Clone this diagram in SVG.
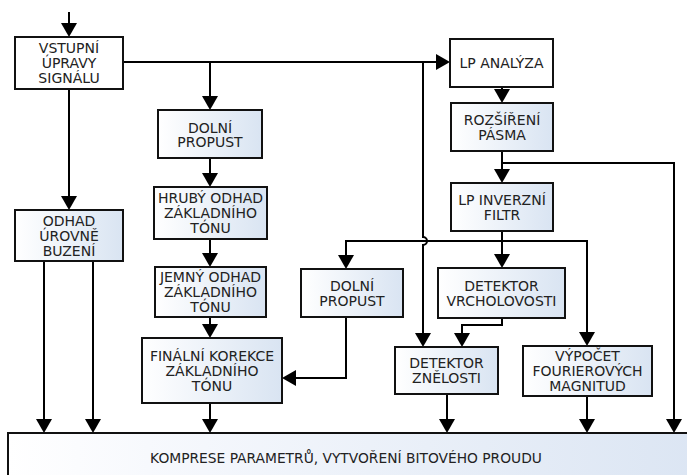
<svg xmlns="http://www.w3.org/2000/svg" width="687" height="475" viewBox="0 0 687 475">
<defs>
<linearGradient id="g" x1="0" y1="0" x2="1" y2="0">
<stop offset="0" stop-color="#ffffff"/>
<stop offset="1" stop-color="#d9e4f2"/>
</linearGradient>
<linearGradient id="gb" x1="0" y1="0" x2="1" y2="0">
<stop offset="0" stop-color="#ffffff"/>
<stop offset="0.2" stop-color="#f7f9fd"/>
<stop offset="1" stop-color="#dbe5f3"/>
</linearGradient>
<marker id="a" viewBox="0 0 14 16" refX="11" refY="8" markerWidth="14" markerHeight="16" markerUnits="userSpaceOnUse" orient="auto">
<path d="M0,0 L14,8 L0,16 Z" fill="#000"/>
</marker>
</defs>
<style>
.b{fill:url(#g);stroke:#111;stroke-width:2}
.w{fill:#fff;stroke:#111;stroke-width:2}
.c{fill:none;stroke:#000;stroke-width:2;marker-end:url(#a)}
.n{fill:none;stroke:#000;stroke-width:2}
text{font-family:"DejaVu Sans",Verdana,sans-serif;font-size:14px;fill:#222;text-anchor:middle}
</style>
<rect width="687" height="475" fill="#fff"/>
<g id="connectors">
<path class="c" d="M69,12 V34"/>
<path class="c" d="M123,62 H447"/>
<path class="c" d="M210,62 V107"/>
<path class="c" d="M423,62 V237 a4,4 0 0 1 0,8 V344"/>
<path class="c" d="M69,89 V207"/>
<path class="c" d="M44,261 V430"/>
<path class="c" d="M93,261 V430"/>
<path class="c" d="M210,158 V184"/>
<path class="c" d="M210,239 V264"/>
<path class="c" d="M210,317 V335"/>
<path class="c" d="M210,403 V430"/>
<path class="c" d="M502,87 V100"/>
<path class="c" d="M502,151 V180"/>
<path class="c" d="M502,163 H674 V430"/>
<path class="c" d="M502,231 V265"/>
<path class="c" d="M502,241 H346 V266"/>
<path class="c" d="M502,241 H587 V343"/>
<path class="c" d="M346,317 V378 H285"/>
<path class="c" d="M502,318 V325 H462 V344"/>
<path class="c" d="M447,394 V430"/>
<path class="c" d="M587,396 V430"/>
</g>
<g id="vstupni"><rect class="w" x="15" y="37" width="108" height="52"/><text x="69" y="53">VSTUPNÍ</text><text x="69" y="68">ÚPRAVY</text><text x="69" y="83">SIGNÁLU</text></g>
<g id="odhad"><rect class="b" x="15" y="210" width="108" height="51"/><text x="69" y="225.5">ODHAD</text><text x="69" y="240.5">ÚROVNĚ</text><text x="69" y="255.5">BUZENÍ</text></g>
<g id="dolni1"><rect class="b" x="158" y="110" width="104" height="48"/><text x="210" y="132.5">DOLNÍ</text><text x="210" y="147">PROPUST</text></g>
<g id="hruby"><rect class="b" x="154" y="187" width="113" height="52"/><text x="210.5" y="203">HRUBÝ ODHAD</text><text x="210.5" y="218">ZÁKLADNÍHO</text><text x="210.5" y="233">TÓNU</text></g>
<g id="jemny"><rect class="b" x="155" y="267" width="111" height="50"/><text x="210.5" y="282">JEMNÝ ODHAD</text><text x="210.5" y="297">ZÁKLADNÍHO</text><text x="210.5" y="312">TÓNU</text></g>
<g id="finalni"><rect class="b" x="142" y="338" width="140" height="65"/><text x="212" y="360.5">FINÁLNÍ KOREKCE</text><text x="212" y="375.5">ZÁKLADNÍHO</text><text x="212" y="390.5">TÓNU</text></g>
<g id="lpanalyza"><rect class="w" x="450" y="39" width="103" height="48"/><text x="501.5" y="68">LP ANALÝZA</text></g>
<g id="rozsireni"><rect class="b" x="451" y="103" width="102" height="48"/><text x="502" y="124.5">ROZŠÍŘENÍ</text><text x="502" y="139.5">PÁSMA</text></g>
<g id="lpinverzni"><rect class="b" x="451" y="183" width="102" height="48"/><text x="502" y="204.5">LP INVERZNÍ</text><text x="502" y="219.5">FILTR</text></g>
<g id="dolni2"><rect class="b" x="301" y="269" width="102" height="48"/><text x="352" y="290.5">DOLNÍ</text><text x="352" y="305.5">PROPUST</text></g>
<g id="vrchol"><rect class="b" x="438" y="268" width="127" height="50"/><text x="501.5" y="290.5">DETEKTOR</text><text x="501.5" y="305.5">VRCHOLOVOSTI</text></g>
<g id="znelost"><rect class="b" x="395" y="347" width="103" height="47"/><text x="446.5" y="368">DETEKTOR</text><text x="446.5" y="383">ZNĚLOSTI</text></g>
<g id="vypocet"><rect class="b" x="523" y="346" width="129" height="50"/><text x="587.5" y="361">VÝPOČET</text><text x="587.5" y="376">FOURIEROVÝCH</text><text x="587.5" y="391">MAGNITUD</text></g>
<g id="komprese"><rect x="8" y="433" width="700" height="60" fill="url(#gb)" stroke="#111" stroke-width="2"/><text x="346" y="463" style="font-size:13.8px">KOMPRESE PARAMETRŮ, VYTVOŘENÍ BITOVÉHO PROUDU</text></g>
</svg>
